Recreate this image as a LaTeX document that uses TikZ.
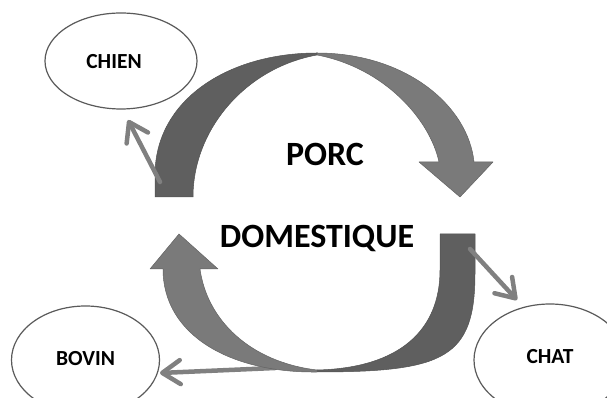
\documentclass[tikz,border=0pt]{standalone}
\usepackage{fontspec}
\setmainfont{Carlito}
\usetikzlibrary{arrows.meta,shapes.geometric}
\definecolor{bandDark}{HTML}{5F5F5F}
\definecolor{bandLight}{HTML}{7A7A7A}
\definecolor{linkGrey}{HTML}{808080}
\definecolor{rimGrey}{HTML}{5A5A5A}

\begin{document}
\begin{tikzpicture}[x=1pt,y=1pt,
  animal/.style={ellipse, draw=rimGrey, line width=1.2pt, fill=white, inner sep=0pt},
  animaltext/.style={font=\fontsize{21.5}{26}\selectfont\bfseries, anchor=base, text=black},
  bigtext/.style={font=\fontsize{34}{40}\selectfont\bfseries, anchor=base, text=black},
  darkband/.style={fill=bandDark, draw=bandDark!85!black, line width=0.5pt, line join=round},
  lightband/.style={fill=bandLight, draw=bandLight!80!black, line width=0.5pt, line join=round},
  link/.style={draw=linkGrey, line width=4.5pt, line cap=round,
    -{Straight Barb[length=18pt,width=24pt,round]}}
]
\useasboundingbox (0,0) rectangle (607,398);

% surrounding animals
\node[animal, minimum width=152pt, minimum height=96pt] (chien) at (121,337) {};
\node[animal, minimum width=148pt, minimum height=108pt] (bovin) at (85.5,38) {};
\node[animal, minimum width=152pt, minimum height=112pt] (chat) at (550,38) {};
\node[animaltext] (chienlbl) at (114,329) {CHIEN};
\node[animaltext] (bovinlbl) at (85.5,32) {BOVIN};
\node[animaltext] (chatlbl) at (550,34) {CHAT};

% link ends
\coordinate (chienFrom) at (160,216);
\coordinate (chienTo) at (128,278);
\coordinate (chatFrom) at (470,149);
\coordinate (chatTo) at (517,98);
\coordinate (bovinFrom) at (275,30);
\coordinate (bovinTo) at (160,25);

% the link to the cattle leaves from under the lower ribbon
\draw[link] (bovinFrom) -- (bovinTo);

% upper circular arrow: dark rising half, light falling half with head
\fill[darkband] (155,201) -- (155,223)
  .. controls (155,298) and (228,345) .. (317,345)
  -- (317,343)
  .. controls (245,330) and (193,268) .. (193,201) -- cycle;
\fill[lightband] (317,345)
  .. controls (405,345) and (468,293) .. (474,236)
  -- (493,236) -- (460,201) -- (419,236) -- (439,236)
  .. controls (430,278) and (385,330) .. (317,343) -- cycle;

% lower circular arrow: dark falling half, light rising half with head
\fill[darkband] (475,164) -- (475,125)
  .. controls (475,40) and (445,26) .. (317,26)
  -- (317,28)
  .. controls (400,30) and (440,68) .. (440,128) -- (440,164) -- cycle;
\fill[lightband] (317,26)
  .. controls (230,25) and (163,63) .. (163,129)
  -- (150,129) -- (179,164) -- (218,129) -- (200,129)
  .. controls (207,78) and (250,36) .. (317,28) -- cycle;

% title
\node[bigtext] (porc) at (325,232) {PORC};
\node[bigtext] (domestique) at (317,150) {DOMESTIQUE};

% links towards the dog and the cat
\draw[link] (chienFrom) -- (chienTo);
\draw[link] (chatFrom) -- (chatTo);
\end{tikzpicture}
\end{document}
